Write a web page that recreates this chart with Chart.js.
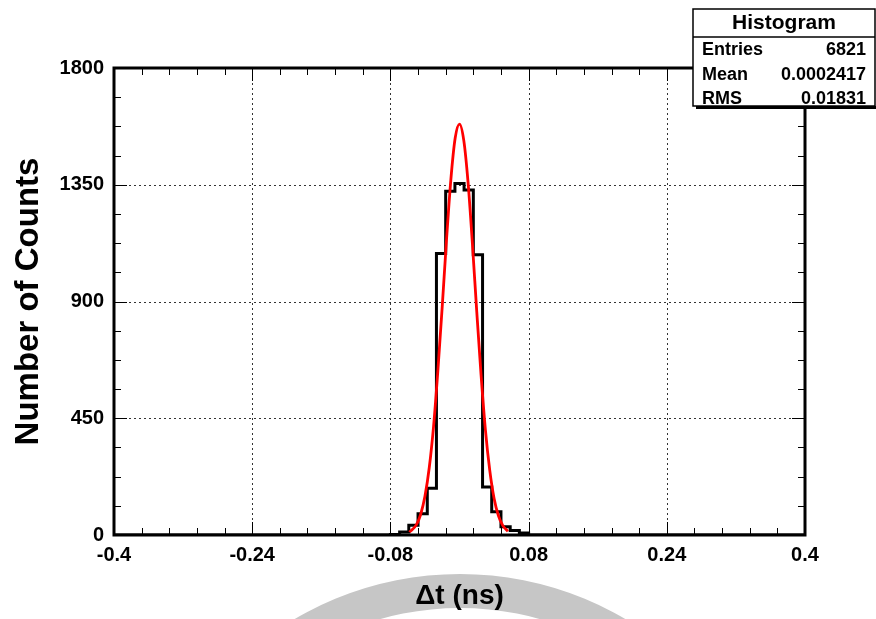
<!DOCTYPE html>
<html>
<head>
<meta charset="utf-8">
<script src="https://cdn.jsdelivr.net/npm/chart.js@4.4.0/dist/chart.umd.min.js"></script>
<style>
  body { margin: 0; background: #fff; }
  #wrap { width: 876px; height: 619px; }
</style>
</head>
<body>
<div id="wrap"><canvas id="dtChart" width="876" height="619"></canvas></div>
<script>
// histogram bins (left edges + last right edge) and counts
const binEdges = [-0.08, -0.0693, -0.0587, -0.048, -0.0373, -0.0267, -0.016, -0.0053,
    0.0053, 0.016, 0.0267, 0.0373, 0.048, 0.0587, 0.0693, 0.08];
const binCounts = [2, 12, 38, 82, 180, 1085, 1325, 1355, 1330, 1080, 185, 90, 32, 17, 8];

// red fit curve
const fitX = [-0.058, -0.05, -0.045, -0.04, -0.035, -0.03, -0.025, -0.02, -0.015, -0.01, -0.005, 0,
    0.005, 0.01, 0.015, 0.02, 0.025, 0.03, 0.035, 0.04, 0.045, 0.05, 0.056];
const fitY = [11, 39, 79, 149, 260, 420, 635, 880, 1140, 1370, 1530, 1584,
    1520, 1355, 1120, 860, 615, 405, 250, 142, 75, 37, 14];

const xTicks = [-0.4, -0.24, -0.08, 0.08, 0.24, 0.4];
const xTickLabels = ['-0.4', '-0.24', '-0.08', '0.08', '0.24', '0.4'];
const yTicks = [0, 450, 900, 1350, 1800];
const yTickLabels = ['0', '450', '900', '1350', '1800'];

const statsTitle = 'Histogram';
const statsLabels = ['Entries', 'Mean', 'RMS'];
const statsValues = ['6821', '0.0002417', '0.01831'];

const FONT = '"Liberation Sans", Arial, Helvetica, sans-serif';

const histPoints = [{x: -0.4, y: 0}];
binCounts.forEach((c, i) => histPoints.push({x: binEdges[i], y: c}));
histPoints.push({x: binEdges[binEdges.length - 1], y: 0});
histPoints.push({x: 0.4, y: 0});

const fitPoints = fitX.map((x, i) => ({x: x, y: fitY[i]}));

// white background + faint watermark ring behind the x title
const backdrop = {
    id: 'backdrop',
    beforeDraw(chart) {
        const ctx = chart.ctx;
        ctx.save();
        ctx.fillStyle = '#fff';
        ctx.fillRect(0, 0, chart.width, chart.height);
        ctx.beginPath();
        ctx.arc(460, 900, 326, 0, Math.PI * 2);
        ctx.arc(460, 900, 292, 0, Math.PI * 2, true);
        ctx.fillStyle = '#c6c6c6';
        ctx.fill('evenodd');
        ctx.restore();
    }
};

// dotted grid at the major ticks
const dottedGrid = {
    id: 'dottedGrid',
    beforeDatasetsDraw(chart) {
        const {ctx, chartArea: a, scales: {x, y}} = chart;
        ctx.save();
        ctx.strokeStyle = '#333';
        ctx.lineWidth = 1;
        ctx.setLineDash([2, 3]);
        xTicks.slice(1, -1).forEach(v => {
            const px = Math.round(x.getPixelForValue(v)) + 0.5;
            ctx.beginPath();
            ctx.moveTo(px, a.top);
            ctx.lineTo(px, a.bottom);
            ctx.stroke();
        });
        yTicks.slice(1, -1).forEach(v => {
            const py = Math.round(y.getPixelForValue(v)) + 0.5;
            ctx.beginPath();
            ctx.moveTo(a.left, py);
            ctx.lineTo(a.right, py);
            ctx.stroke();
        });
        ctx.restore();
    }
};

// thick frame with inward ticks on all four sides
const frameTicks = {
    id: 'frameTicks',
    afterDatasetsDraw(chart) {
        const {ctx, chartArea: a, scales: {x, y}} = chart;
        ctx.save();
        ctx.strokeStyle = '#000';
        ctx.lineWidth = 1;
        ctx.beginPath();
        for (let i = 0; i <= 25; i++) {
            const px = Math.round(x.getPixelForValue(-0.4 + i * 0.032)) + 0.5;
            const len = i % 5 === 0 ? 13 : 7;
            ctx.moveTo(px, a.bottom);
            ctx.lineTo(px, a.bottom - len);
            ctx.moveTo(px, a.top);
            ctx.lineTo(px, a.top + len);
        }
        for (let i = 0; i <= 16; i++) {
            const py = Math.round(y.getPixelForValue(i * 112.5)) + 0.5;
            const len = i % 4 === 0 ? 13 : 7;
            ctx.moveTo(a.left, py);
            ctx.lineTo(a.left + len, py);
            ctx.moveTo(a.right, py);
            ctx.lineTo(a.right - len, py);
        }
        ctx.stroke();
        ctx.lineWidth = 3;
        ctx.strokeRect(a.left, a.top, a.right - a.left, a.bottom - a.top);
        ctx.restore();
    }
};

// stats box in the top right corner
const statsBox = {
    id: 'statsBox',
    afterDraw(chart) {
        const ctx = chart.ctx;
        const left = 693, top = 9, right = 875, bottom = 106;
        ctx.save();
        ctx.fillStyle = '#000';
        ctx.fillRect(left + 3, bottom, right - left, 3);
        ctx.fillStyle = '#fff';
        ctx.fillRect(left, top, right - left, bottom - top);
        ctx.strokeStyle = '#000';
        ctx.lineWidth = 1.5;
        ctx.strokeRect(left, top, right - left, bottom - top);
        ctx.beginPath();
        ctx.moveTo(left, 37);
        ctx.lineTo(right, 37);
        ctx.stroke();
        ctx.fillStyle = '#000';
        ctx.font = 'bold 21px ' + FONT;
        ctx.textAlign = 'center';
        ctx.textBaseline = 'alphabetic';
        ctx.fillText(statsTitle, 784, 29);
        ctx.font = 'bold 18px ' + FONT;
        statsLabels.forEach((lab, i) => {
            const by = 55 + i * 24.5;
            ctx.textAlign = 'left';
            ctx.fillText(lab, 702, by);
            ctx.textAlign = 'right';
            ctx.fillText(statsValues[i], 866, by);
        });
        ctx.restore();
    }
};

new Chart(document.getElementById('dtChart'), {
    type: 'line',
    data: {
        datasets: [{
            label: 'fit',
            data: fitPoints,
            borderColor: '#ff0000',
            borderWidth: 2.8,
            pointRadius: 0,
            fill: false,
            cubicInterpolationMode: 'monotone',
            order: 0
        }, {
            label: 'Histogram',
            data: histPoints,
            borderColor: '#000',
            borderWidth: 3,
            pointRadius: 0,
            fill: false,
            stepped: 'before',
            borderJoinStyle: 'miter',
            borderCapStyle: 'butt',
            order: 1
        }]
    },
    options: {
        responsive: false,
        animation: false,
        devicePixelRatio: 1,
        layout: {
            padding: {top: 68, right: 71, left: 0, bottom: 0}
        },
        plugins: {
            legend: {display: false},
            tooltip: {enabled: false}
        },
        scales: {
            x: {
                type: 'linear',
                min: -0.4,
                max: 0.4,
                afterBuildTicks: scale => {
                    scale.ticks = xTicks.map(v => ({value: v}));
                },
                afterFit: scale => {
                    scale.height = 84;
                },
                grid: {display: false, drawTicks: false},
                border: {display: false},
                ticks: {
                    autoSkip: false,
                    maxRotation: 0,
                    padding: 8,
                    color: '#000',
                    font: {family: FONT, size: 20, weight: 'bold'},
                    callback: (value, index) => xTickLabels[index]
                },
                title: {
                    display: true,
                    text: 'Δt (ns)',
                    color: '#000',
                    font: {family: FONT, size: 28, weight: 'bold'},
                    padding: {top: 0, bottom: 6}
                }
            },
            y: {
                min: 0,
                max: 1800,
                afterBuildTicks: scale => {
                    scale.ticks = yTicks.map(v => ({value: v}));
                },
                afterFit: scale => {
                    scale.width = 114;
                },
                grid: {display: false, drawTicks: false},
                border: {display: false},
                ticks: {
                    padding: 10,
                    color: '#000',
                    font: {family: FONT, size: 20, weight: 'bold'},
                    callback: (value, index) => yTickLabels[index]
                },
                title: {
                    display: true,
                    text: 'Number of Counts',
                    color: '#000',
                    font: {family: FONT, size: 33, weight: 'bold'},
                    padding: {top: 9, bottom: 0}
                }
            }
        }
    },
    plugins: [backdrop, dottedGrid, frameTicks, statsBox]
});
</script>
</body>
</html>
